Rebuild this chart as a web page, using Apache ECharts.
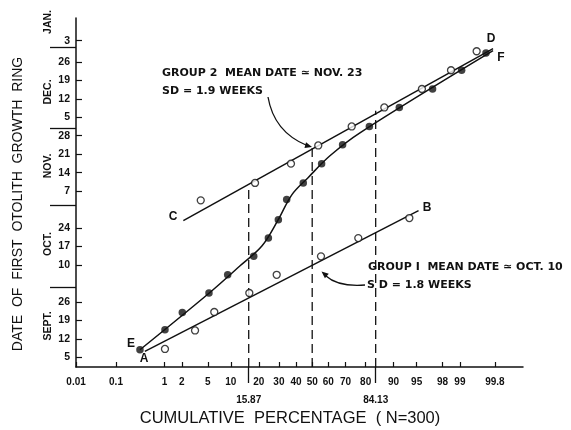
<!DOCTYPE html>
<html><head><meta charset="utf-8">
<script src="https://cdn.jsdelivr.net/npm/echarts@6/dist/echarts.min.js"></script>
<style>html,body{margin:0;padding:0;background:#fff}#c{width:571px;height:430px}</style>
</head><body><div id="c"></div>
<script>
// x values: cumulative percentage (probability scale); y values: days after Aug 31
// (Sept 5 = 5, Oct 1 = 31, Nov 1 = 62, Dec 1 = 92, Jan 1 = 123)
const xTickPct = [0.01, 0.1, 1, 2, 5, 10, 20, 30, 40, 50, 60, 70, 80, 90, 95, 98, 99, 99.8];
const xTickLabels = ['0.01', '0.1', '1', '2', '5', '10', '20', '30', '40', '50', '60', '70', '80', '90', '95', '98', '99', '99.8'];
const sdTickPct = [15.87, 84.13];
const sdTickLabels = ['15.87', '84.13'];
const yTickDay = [5, 12, 19, 26, 40, 47, 54, 68, 75, 82, 89, 96, 103, 110, 117, 125];
const yTickLabels = ['5', '12', '19', '26', '10', '17', '24', '7', '14', '21', '28', '5', '12', '19', '26', '3'];
const monthBoundaryDay = [31.6, 62.6, 92, 122.5];
const monthNames = ['SEPT.', 'OCT.', 'NOV.', 'DEC.', 'JAN.'];

// Group 1 (open circles, line A-B)
const group1Pct = [1.02, 3.25, 6.15, 16.1, 28.8, 55.5, 76.6, 93.7];
const group1Day = [8.2, 15.2, 22.2, 29.4, 36.3, 43.3, 50.2, 57.8];
const group1LinePct = [0.42, 95.3];
const group1LineDay = [7.3, 60.6];

// Group 2 (open circles, line C-D)
const group2Pct = [3.96, 18.4, 36.9, 53.8, 73.3, 87.2, 95.8, 98.56, 99.52];
const group2Day = [64.5, 71.1, 78.4, 85.3, 92.5, 99.7, 106.7, 113.8, 121.0];
const group2LinePct = [2.12, 99.78];
const group2LineDay = [56.8, 122.0];

// Combined sample (filled circles) and its hand-fitted curve E-F
const combinedPct = [0.334, 1.02, 2.04, 5.2, 9.16, 17.85, 24.5, 29.7, 34.4, 44.4, 55.9, 68.4, 81.6, 91.5, 97.1, 99.07, 99.69];
const combinedDay = [7.9, 15.5, 22.05, 29.4, 36.3, 43.3, 50.2, 57.2, 64.8, 71.1, 78.4, 85.6, 92.5, 99.7, 106.7, 113.8, 120.3];
const combinedCurvePct = [0.334, 5.2, 12.8, 21.5, 29.5, 37.5, 47.4, 61.0, 77.4, 99.78];
const combinedCurveDay = [7.9, 29.3, 39.7, 47.3, 57.0, 66.7, 73.1, 81.4, 90.1, 121.2];

// dashed guides at 15.87, 50, 84.13 %
const guidePct = [15.87, 50, 84.13];
const guideTopDay = [70.4, 84.8, 98.5];

// inverse normal CDF (Acklam) : percentage -> probit
function probit(pct) {
  const p = pct / 100;
  const a = [-3.969683028665376e+01, 2.209460984245205e+02, -2.759285104469687e+02, 1.383577518672690e+02, -3.066479806614716e+01, 2.506628277459239e+00];
  const b = [-5.447609879822406e+01, 1.615858368580409e+02, -1.556989798598866e+02, 6.680131188771972e+01, -1.328068155288572e+01];
  const c = [-7.784894002430293e-03, -3.223964580411365e-01, -2.400758277161838e+00, -2.549732539343734e+00, 4.374664141464968e+00, 2.938163982698783e+00];
  const d = [7.784695709041462e-03, 3.224671290700398e-01, 2.445134137142996e+00, 3.754408661907416e+00];
  const pl = 0.02425;
  let q, r;
  if (p < pl) {
    q = Math.sqrt(-2 * Math.log(p));
    return (((((c[0]*q+c[1])*q+c[2])*q+c[3])*q+c[4])*q+c[5]) / ((((d[0]*q+d[1])*q+d[2])*q+d[3])*q+1);
  } else if (p <= 1 - pl) {
    q = p - 0.5; r = q * q;
    return (((((a[0]*r+a[1])*r+a[2])*r+a[3])*r+a[4])*r+a[5])*q / (((((b[0]*r+b[1])*r+b[2])*r+b[3])*r+b[4])*r+1);
  } else {
    q = Math.sqrt(-2 * Math.log(1 - p));
    return -(((((c[0]*q+c[1])*q+c[2])*q+c[3])*q+c[4])*q+c[5]) / ((((d[0]*q+d[1])*q+d[2])*q+d[3])*q+1);
  }
}
const pairs = (xs, ys) => xs.map((x, i) => [probit(x), ys[i]]);

const xTickVals = xTickPct.map(probit);
const sdTickVals = sdTickPct.map(probit);
const labelFor = (vals, labels) => (v) => {
  let best = 0, bd = Infinity;
  vals.forEach((t, i) => { const dd = Math.abs(t - v); if (dd < bd) { bd = dd; best = i; } });
  return labels[best];
};

const FONT = 'Liberation Sans';
const FONT2 = 'DejaVu Sans';
const black = '#111';
const lineStyle = { color: black, width: 1.5 };

const series = [];
guidePct.forEach((p, i) => {
  series.push({ type: 'line', data: [[probit(p), 1.4], [probit(p), guideTopDay[i]]], showSymbol: false, silent: true,
    lineStyle: { color: black, width: 1.3, type: [9, 5] }, z: 1 });
});
series.push({ type: 'line', data: pairs(group1LinePct, group1LineDay), showSymbol: false, lineStyle, z: 2 });
series.push({ type: 'line', data: pairs(group2LinePct, group2LineDay), showSymbol: false, lineStyle, z: 2 });
series.push({ type: 'line', data: pairs(combinedCurvePct, combinedCurveDay), showSymbol: false, smooth: 0.35, lineStyle, z: 2 });
series.push({ type: 'scatter', data: pairs(group1Pct, group1Day), symbol: 'circle', symbolSize: 7,
  itemStyle: { color: '#fff', borderColor: black, borderWidth: 1.3 }, z: 5 });
series.push({ type: 'scatter', data: pairs(group2Pct, group2Day), symbol: 'circle', symbolSize: 7,
  itemStyle: { color: '#fff', borderColor: black, borderWidth: 1.3 }, z: 5 });
series.push({ type: 'scatter', data: pairs(combinedPct, combinedDay), symbol: 'circle', symbolSize: 7.5,
  itemStyle: { color: black }, z: 5 });

function arrowHead(tip, from, len, half) {
  const dx = tip[0] - from[0], dy = tip[1] - from[1];
  const L = Math.hypot(dx, dy), ux = dx / L, uy = dy / L;
  const bx = tip[0] - ux * len, by = tip[1] - uy * len;
  return { type: 'polygon', shape: { points: [tip, [bx - uy * half, by + ux * half], [bx + uy * half, by - ux * half]] },
    style: { fill: black } };
}
const txt = (x, y, text, opts) => Object.assign({ type: 'text', x, y,
  style: Object.assign({ text, fill: black, font: 'bold 11px ' + FONT2, textAlign: 'left', textVerticalAlign: 'middle' }, opts || {}) });

const monthCenterY = [326, 244, 166, 92, 22];
const graphic = [];
monthNames.forEach((m, i) => {
  graphic.push({ type: 'text', x: 48, y: monthCenterY[i], rotation: Math.PI / 2,
    style: { text: m, fill: black, font: 'bold 10.5px ' + FONT, textAlign: 'center', textVerticalAlign: 'middle' } });
});
graphic.push({ type: 'text', x: 18, y: 204, rotation: Math.PI / 2,
  style: { text: 'DATE  OF  FIRST  OTOLITH  GROWTH  RING', fill: black, font: '14px ' + FONT, textAlign: 'center', textVerticalAlign: 'middle' } });
graphic.push({ type: 'text', x: 290, y: 418,
  style: { text: 'CUMULATIVE  PERCENTAGE  ( N=300)', fill: black, font: '16.5px ' + FONT, textAlign: 'center', textVerticalAlign: 'middle' } });
graphic.push(txt(162, 73, 'GROUP 2  MEAN DATE ≃ NOV. 23'));
graphic.push(txt(162, 91, 'SD = 1.9 WEEKS'));
graphic.push(txt(368, 267, 'GROUP I  MEAN DATE ≃ OCT. 10'));
graphic.push(txt(367, 285, 'S D = 1.8 WEEKS'));
graphic.push({ type: 'bezierCurve', shape: { x1: 268, y1: 97, cpx1: 274, cpy1: 132, x2: 307, y2: 145.5 },
  style: { stroke: black, lineWidth: 1.3, fill: null } });
graphic.push(arrowHead([312, 147], [290, 141], 7, 3));
graphic.push({ type: 'bezierCurve', shape: { x1: 365, y1: 285, cpx1: 338, cpy1: 287, x2: 326, y2: 276 },
  style: { stroke: black, lineWidth: 1.3, fill: null } });
graphic.push(arrowHead([321.5, 271.5], [334, 282], 7, 3));
[['A', 144, 359], ['E', 131, 344], ['C', 173, 217], ['B', 427, 208], ['D', 491, 39], ['F', 501, 58]].forEach(l => {
  graphic.push(txt(l[1], l[2], l[0], { font: 'bold 12px ' + FONT, textAlign: 'center' }));
});

const chart = echarts.init(document.getElementById('c'), null, { renderer: 'canvas' });
chart.setOption({
  animation: false,
  backgroundColor: '#fff',
  grid: { left: 76, right: 48, top: 18, bottom: 63 },
  xAxis: [{
    type: 'value', min: -3.72, max: 3.32, position: 'bottom',
    axisLine: { onZero: false, lineStyle: { color: black, width: 1.5 } },
    axisTick: { inside: true, length: 5, customValues: xTickVals, lineStyle: { color: black, width: 1.2 } },
    axisLabel: { customValues: xTickVals, formatter: labelFor(xTickVals, xTickLabels), margin: 10,
      color: black, fontFamily: FONT, fontSize: 10, fontWeight: 'bold' },
    splitLine: { show: false }
  }, {
    type: 'value', min: -3.72, max: 3.32, position: 'bottom',
    axisLine: { show: false, onZero: false },
    axisTick: { inside: false, length: 16, customValues: sdTickVals, lineStyle: { color: black, width: 1.3 } },
    axisLabel: { customValues: sdTickVals, formatter: labelFor(sdTickVals, sdTickLabels), margin: 28,
      color: black, fontFamily: FONT, fontSize: 10, fontWeight: 'bold' },
    splitLine: { show: false }
  }],
  yAxis: [{
    type: 'value', min: 1.36, max: 133.6, position: 'left',
    axisLine: { onZero: false, lineStyle: { color: black, width: 1.5 } },
    axisTick: { inside: true, length: 6, customValues: yTickDay, lineStyle: { color: black, width: 1.2 } },
    axisLabel: { customValues: yTickDay, formatter: labelFor(yTickDay, yTickLabels), margin: 6,
      color: black, fontFamily: FONT, fontSize: 10.5, fontWeight: 'bold' },
    splitLine: { show: false }
  }, {
    type: 'value', min: 1.36, max: 133.6, position: 'left',
    axisLine: { show: false, onZero: false },
    axisTick: { inside: false, length: 26, customValues: monthBoundaryDay, lineStyle: { color: black, width: 1.3 } },
    axisLabel: { show: false },
    splitLine: { show: false }
  }],
  series,
  graphic
});
</script></body></html>
